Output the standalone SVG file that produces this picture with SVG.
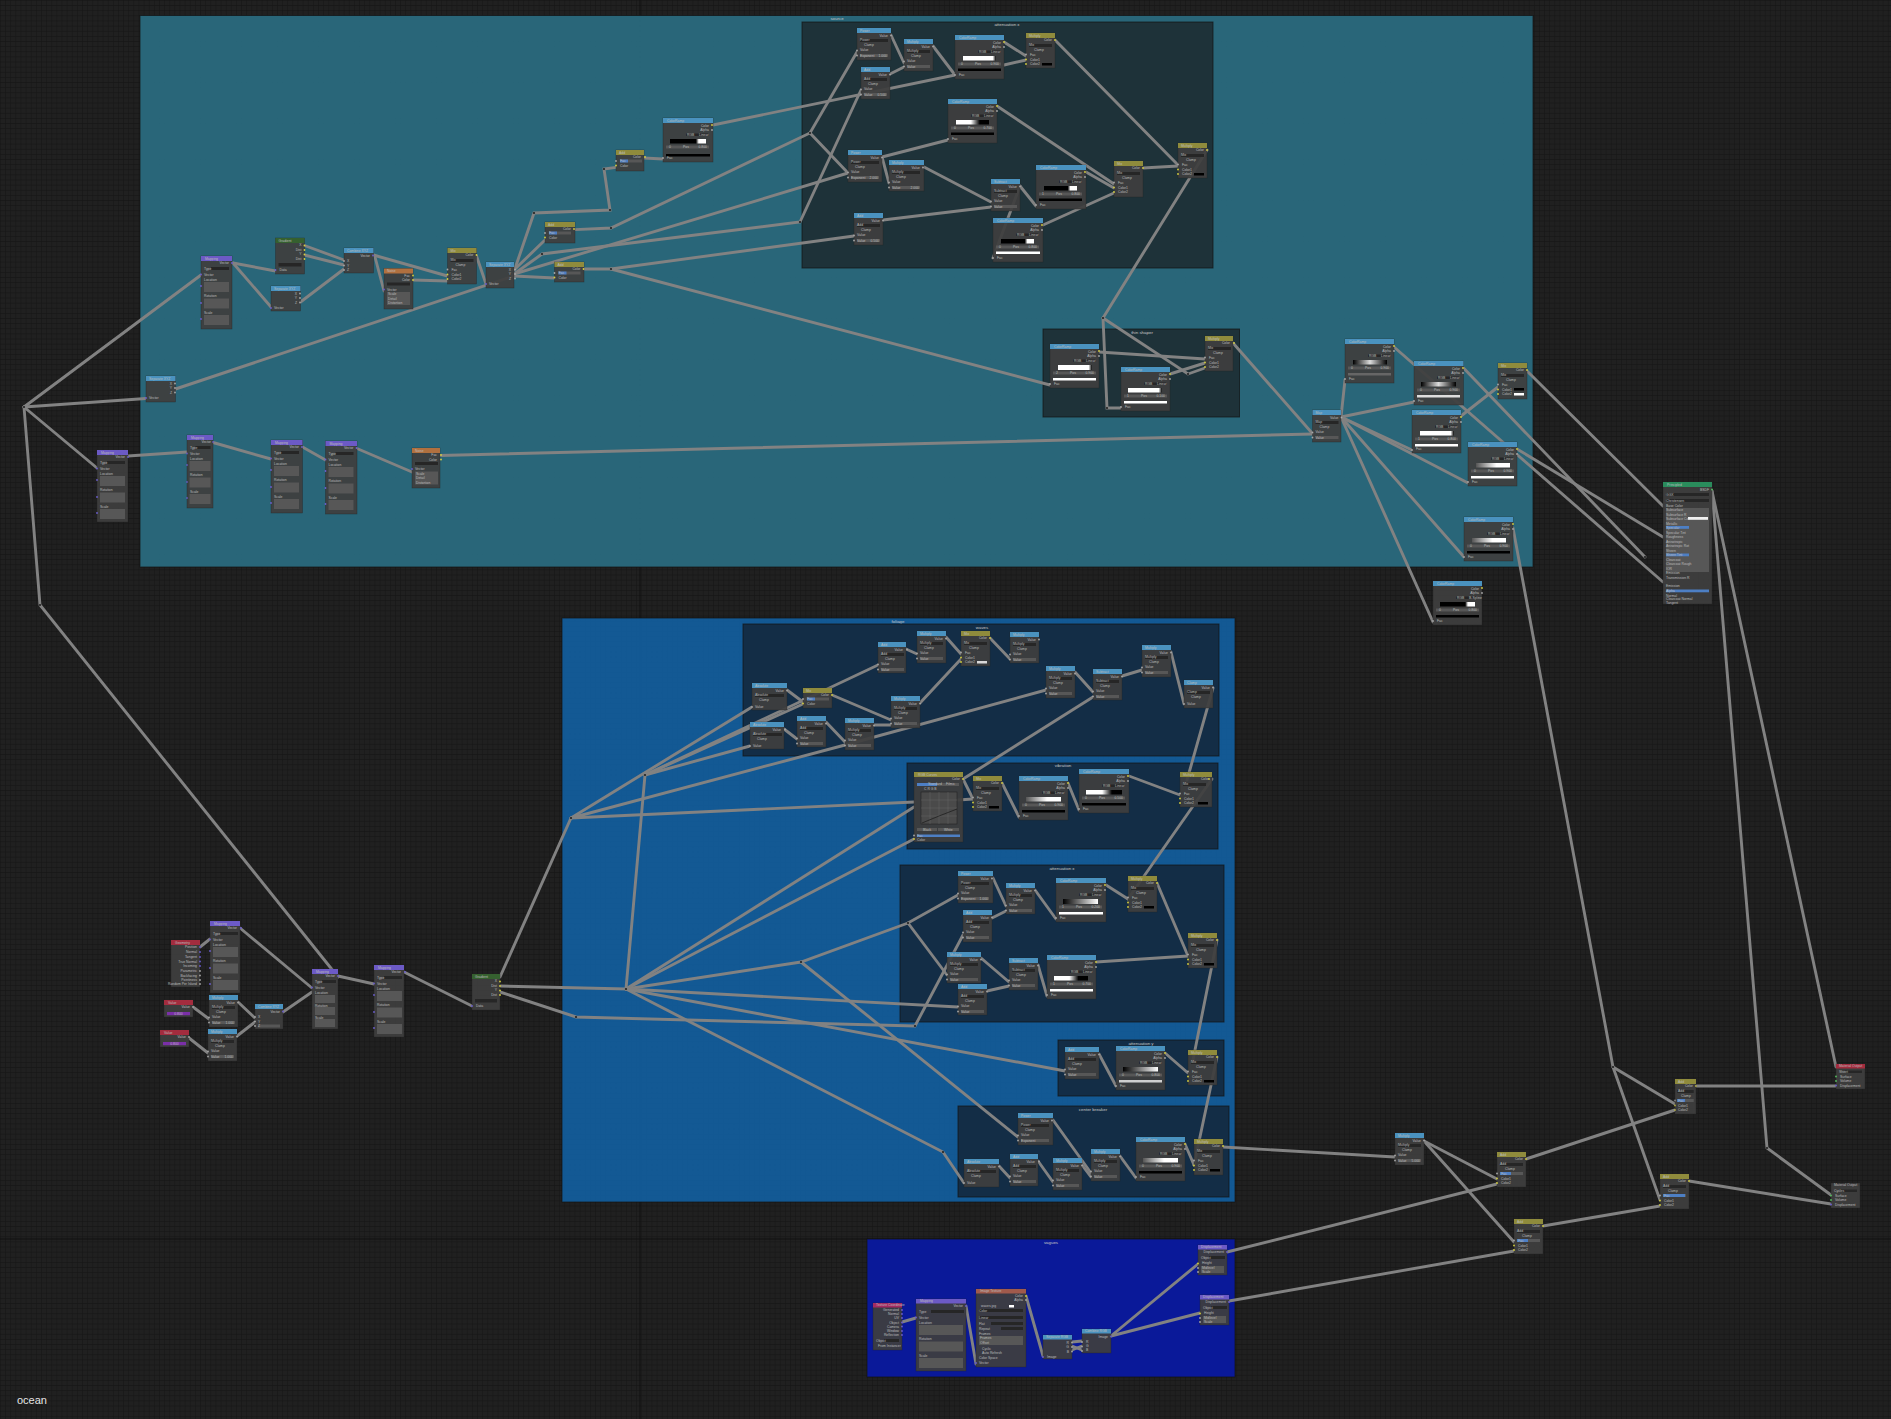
<svg xmlns="http://www.w3.org/2000/svg" width="1891" height="1419" viewBox="0 0 1891 1419">
<style>
text{font-family:"Liberation Sans",Arial,sans-serif;font-size:3.4px;fill:#bcbcbc}
.r{text-anchor:end}.c{text-anchor:middle}
.nb{fill:#3e3e3e;fill-opacity:.93;stroke:#222;stroke-width:.5;stroke-opacity:.7}
.f{fill:#262626}.s{fill:#575757}.fac{fill:#4d7fc4}
.v{fill:#a8a8a8}.y{fill:#d6d040}.p{fill:#6c5fd0}.g{fill:#55c060}
.b{fill:#4a92bf}.o{fill:#8f8b3c}.u{fill:#6c5ac6}.n{fill:#b0703f}.e{fill:#35602f}.d{fill:#a32c3e}.m{fill:#a32a62}.w{fill:#a05a4c}.q{fill:#2a8c5c}
.fr{stroke:#111;stroke-width:1;stroke-opacity:.7}
.ft{font-size:4.4px;text-anchor:middle;fill:#c8c8c8}
#connectors path{fill:none;stroke:#828282;stroke-width:2.9;stroke-linecap:round}
#connectors circle{fill:#222;r:1.1px}
</style>
<defs>
<pattern id="grid" width="5.13" height="5.13" patternUnits="userSpaceOnUse"><rect width="5.13" height="5.13" fill="#202020"/><path d="M0 0H5.13M0 0V5.13" stroke="#161616" stroke-width="1.1" fill="none"/></pattern>
<linearGradient id="gK"><stop offset=".72" stop-color="#000"/><stop offset=".8" stop-color="#fff"/></linearGradient>
<linearGradient id="gW"><stop offset=".1" stop-color="#fff"/><stop offset=".9" stop-color="#fff"/><stop offset="1" stop-color="#000"/></linearGradient>
<linearGradient id="gWK"><stop offset=".45" stop-color="#fff"/><stop offset=".72" stop-color="#000"/></linearGradient>
<linearGradient id="gKW"><stop offset="0" stop-color="#000"/><stop offset="1" stop-color="#fff"/></linearGradient>
<linearGradient id="gWG"><stop offset="0" stop-color="#555"/><stop offset=".6" stop-color="#fff"/></linearGradient>
<linearGradient id="gM"><stop offset="0" stop-color="#000"/><stop offset=".5" stop-color="#ddd"/><stop offset="1" stop-color="#000"/></linearGradient>
<g id="m"><rect class="f" x="3" y="11" width="23" height="3"/><rect class="s" x="3" y="26" width="23" height="3"/><circle class="v" cy="22.5" r=".9"/><circle class="v" cy="27.5" r=".9"/><circle class="v" cx="29" cy="7.5" r=".9"/></g>
<g id="m34"><rect class="f" x="3" y="11" width="28" height="3"/><rect class="s" x="3" y="26" width="28" height="3"/><circle class="v" cy="22.5" r=".9"/><circle class="v" cy="27.5" r=".9"/><circle class="v" cx="34" cy="7.5" r=".9"/></g>
<g id="a"><rect class="f" x="3" y="11" width="23" height="3"/><circle class="v" cy="24" r=".9"/><circle class="v" cx="29" cy="7.5" r=".9"/></g>
<g id="a35"><rect class="f" x="3" y="11" width="29" height="3"/><circle class="v" cy="24" r=".9"/><circle class="v" cx="35" cy="7.5" r=".9"/></g>
<g id="r"><rect class="f" x="23" y="15.5" width="22" height="2.5"/><rect class="s" x="3" y="27.5" width="43" height="3"/><circle class="y" cx="49" cy="7" r=".9"/><circle class="v" cx="49" cy="12" r=".9"/><circle class="v" cy="40" r=".9"/></g>
<g id="x"><rect class="f" x="3" y="11" width="23" height="3"/><circle class="v" cy="21.5" r=".9"/><circle class="y" cy="26.5" r=".9"/><circle class="y" cy="31" r=".9"/><circle class="y" cx="29" cy="7" r=".9"/></g>
<g id="x2"><rect class="s" x="4" y="9.5" width="22" height="3"/><rect class="fac" x="4" y="9.5" width="8" height="3"/><circle class="v" cy="11" r=".9"/><circle class="y" cy="15.5" r=".9"/><circle class="y" cx="29" cy="7" r=".9"/></g>
<g id="x3"><rect class="f" x="3" y="11" width="23" height="3"/><rect class="s" x="3" y="20" width="23" height="3"/><rect class="fac" x="3" y="20" width="11" height="3"/><circle class="v" cy="21.5" r=".9"/><circle class="y" cy="26.5" r=".9"/><circle class="y" cy="31" r=".9"/><circle class="y" cx="29" cy="7" r=".9"/></g>
<g id="map"><rect class="f" x="10" y="11" width="18" height="3"/><rect class="s" x="3" y="26" width="25" height="10"/><rect class="s" x="3" y="42.5" width="25" height="10"/><rect class="s" x="3" y="59" width="25" height="10"/><circle class="p" cy="18.5" r=".9"/><circle class="p" cy="30" r=".9"/><circle class="p" cy="47" r=".9"/><circle class="p" cy="63" r=".9"/><circle class="p" cx="31" cy="7" r=".9"/></g>
<g id="sep"><circle class="v" cx="29" cy="7.5" r=".9"/><circle class="v" cx="29" cy="12" r=".9"/><circle class="v" cx="29" cy="16.5" r=".9"/><circle class="p" cy="22" r=".9"/></g>
<g id="com"><circle class="p" cx="29" cy="7.5" r=".9"/><circle class="v" cy="13" r=".9"/><circle class="v" cy="17.5" r=".9"/><circle class="v" cy="22" r=".9"/></g>
<g id="noi"><rect class="f" x="3" y="14" width="23" height="3"/><rect class="s" x="3" y="23.5" width="23" height="13"/><circle class="y" cx="29" cy="7" r=".9"/><circle class="y" cx="29" cy="11.5" r=".9"/><circle class="p" cy="21" r=".9"/></g>
<rect id="ground" width="1891" height="1419" fill="url(#grid)"/>
</defs>
<use href="#ground"/>
<path d="M640 0V1419M0 1239H1891" stroke="#101010" stroke-width="1" fill="none"/>

<g id="frames">
<g id="frame-source"><rect class="fr" x="140" y="15.5" width="1393" height="551.5" fill="#2a697d" fill-opacity=".96"/><text class="ft" x="837" y="20">source</text></g>
<g id="frame-attx1"><rect class="fr" x="802" y="22" width="411" height="246" fill="#1f3138" fill-opacity=".98"/><text class="ft" x="1007" y="26">attenuation x</text></g>
<g id="frame-thin"><rect class="fr" x="1043" y="329" width="196.500" height="88" fill="#1f3138" fill-opacity=".98"/><text class="ft" x="1142" y="334">thin shaper</text></g>
<g id="frame-foliage"><rect class="fr" x="562" y="618" width="673" height="584" fill="#135b98" fill-opacity=".97"/><text class="ft" x="898" y="623">foliage</text></g>
<g id="frame-waves"><rect class="fr" x="743" y="624" width="476" height="132" fill="#132c44" fill-opacity=".98"/><text class="ft" x="982" y="629">waves</text></g>
<g id="frame-vib"><rect class="fr" x="907" y="763" width="311" height="86" fill="#132c44" fill-opacity=".98"/><text class="ft" x="1063" y="767">vibration</text></g>
<g id="frame-attx2"><rect class="fr" x="900" y="865" width="324" height="157" fill="#132c44" fill-opacity=".98"/><text class="ft" x="1062" y="870">attenuation x</text></g>
<g id="frame-atty"><rect class="fr" x="1058" y="1040" width="166" height="56" fill="#132c44" fill-opacity=".98"/><text class="ft" x="1141" y="1044.500">attenuation y</text></g>
<g id="frame-center"><rect class="fr" x="958" y="1106" width="271" height="91" fill="#132c44" fill-opacity=".98"/><text class="ft" x="1093" y="1110.500">center breaker</text></g>
<g id="frame-vagues"><rect class="fr" x="867" y="1239" width="368" height="138" fill="#0a1a9c" fill-opacity=".98"/><text class="ft" x="1051" y="1243.500">vagues</text></g>
</g>

<g id="connectors">
<path d="M24 407L40 605L338 977"/><path d="M24 407L201 275"/><path d="M24 407L146 398.500"/><path d="M24 407L97 468"/>
<path d="M128 456L187 452"/><path d="M213 442.500L271 459"/><path d="M302.500 447L325.500 460"/><path d="M357 448.500L412 472"/><path d="M440 455.500L1312.500 434"/>
<path d="M233 263L275.500 271"/><path d="M233 263L271 307"/><path d="M304.500 245.500L344 260"/><path d="M304.500 255L344 265"/><path d="M300.500 302L344 269"/>
<path d="M373.500 255L447.500 276"/><path d="M375 257L384 291"/><path d="M413 280L447.500 281"/><path d="M476.500 256L486 284"/><path d="M175.500 389L514 276"/>
<path d="M515 268.500L534 213L610 210L604 169L616 167.400"/><path d="M644 158L663 159"/><path d="M713 125L955 75"/>
<path d="M514 270L545 240"/><path d="M514 276L554.500 278"/><path d="M514 274L542 254L800 222L861 90"/><path d="M514 274L848 173"/>
<path d="M575 229.600L611 228L810 133L857 52"/><path d="M810 133L848 173"/><path d="M584 269L611 269L854 236"/><path d="M611 269L1050 385"/>
<path d="M882 157L948 140"/><path d="M882 157L889 183"/><path d="M891 35L904 63"/><path d="M890 74L904 67"/><path d="M933 46L955 75"/><path d="M1004 42L1026 56"/><path d="M1004 65L1026 60"/>
<path d="M1055 40L1178 165"/><path d="M997 106L1114 184"/><path d="M924 167L991 202"/><path d="M883 220L991 207"/><path d="M1020 186L1036 206"/><path d="M1020 186L993 258"/><path d="M1086 172L1114 188"/><path d="M1043 225L1114 193"/><path d="M1143 168L1178 166"/>
<path d="M1103 318L1207 150"/><path d="M1103 318L1107 408L1121 408"/><path d="M1103 318L1188 374L1205 368"/><path d="M1099 352L1205 359"/><path d="M1170 374L1205 363"/>
<path d="M1233 343L1312 433"/><path d="M1341 417L1345 380"/><path d="M1341 417L1414 402"/><path d="M1341 417L1412 450"/><path d="M1341 417L1468 483"/><path d="M1341 417L1464 557"/><path d="M1341 417L1433 622"/>
<path d="M1394 347L1663 582"/><path d="M1463.500 368L1645 557"/><path d="M1517 449L1663 537"/><path d="M1461 416L1498 387"/><path d="M1527 371L1663 506"/>
<path d="M1513 528L1613 1067L1675 1104"/><path d="M1613 1067L1660 1200"/><path d="M1712 491L1836 1067"/><path d="M1712 491L1767 1148L1831 1195"/><path d="M1696 1086H1836"/><path d="M1689 1181L1831 1204"/>
<path d="M1424 1141L1497 1179"/><path d="M1424 1141L1514 1242"/><path d="M1223 1147L1395 1157"/><path d="M1526 1159L1675 1110"/><path d="M1543 1226L1660 1206"/><path d="M1227 1252L1497 1184"/><path d="M1229 1301L1514 1251"/>
<path d="M200 947L210 939"/><path d="M240 928L312 988"/><path d="M193 1007L209 1019"/><path d="M189 1038L208 1053"/><path d="M238 1002L255 1018"/><path d="M237 1036L255 1022"/><path d="M283 1012L312 992"/><path d="M338 976L374 984"/><path d="M404 972L472 1006"/>
<path d="M500 977L571 818L752 707"/><path d="M571 818L914 802"/><path d="M571 818L845 745"/><path d="M845 745L1046 690"/>
<path d="M500 986L626 989L645 775L750 746"/><path d="M645 775L803 704"/><path d="M645 775L878 665"/><path d="M626 989L914 807"/><path d="M626 989L914 839"/>
<path d="M626 989L801 962L908 923L958 895"/><path d="M908 923L947 975"/><path d="M801 962L1018 1137"/><path d="M500 992L576 1017L915 1026L963 935"/><path d="M626 989L958 1007"/><path d="M626 989L1065 1071"/><path d="M626 989L943 1152L964 1183"/>
<path d="M787 690L803 702"/><path d="M784 729L797 739"/><path d="M832 695L891 720"/><path d="M826 722L845 742"/><path d="M874 725L891 725"/><path d="M920 703L961 659"/><path d="M906 649L917 654"/><path d="M946 637L961 654"/><path d="M990 638L1010 659"/><path d="M1075 672L1093 692"/><path d="M1122 676L1142 670"/><path d="M1171 652L1184 704"/>
<path d="M963 779L1093 697"/><path d="M1213 688L1187 780"/><path d="M963 779L973 799"/><path d="M958 800L973 799"/><path d="M1002 783L1019 817"/><path d="M1068 783L1079 810"/><path d="M1129 776L1180 795"/><path d="M1212 779L1128 899"/>
<path d="M993 878L1006 906"/><path d="M992 918L1006 911"/><path d="M1035 890L1056 919"/><path d="M1106 885L1128 899"/><path d="M1157 883L1188 956"/><path d="M981 958L1009 982"/><path d="M987 991L1009 986"/><path d="M1038 965L1047 996"/><path d="M1096 962L1188 956"/><path d="M1217 940L1193 1060"/>
<path d="M1099 1054L1116 1086"/><path d="M1165 1053L1188 1073"/><path d="M1217 1057L1194 1165"/><path d="M1053 1120L1091 1173"/><path d="M999 1166L1010 1178"/><path d="M1038 1161L1053 1182"/><path d="M1082 1165L1091 1177"/><path d="M1120 1156L1136 1178"/><path d="M1185 1144L1194 1165"/>
<path d="M902 1322L916 1318"/><path d="M966 1306L976 1364"/><path d="M1026 1296L1043 1356"/><path d="M1072 1342L1082 1341"/><path d="M1072 1346L1082 1350"/><path d="M1072 1350L1082 1346"/><path d="M1111 1336L1198 1264"/><path d="M1111 1336L1200 1313"/>
<circle cx="24" cy="407"/><circle cx="40" cy="605"/><circle cx="534" cy="213"/><circle cx="610" cy="210"/><circle cx="604" cy="169"/><circle cx="611" cy="228"/><circle cx="611" cy="269"/><circle cx="542" cy="254"/><circle cx="800" cy="222"/><circle cx="810" cy="133"/><circle cx="1103" cy="318"/><circle cx="1107" cy="408"/><circle cx="1188" cy="374"/><circle cx="1645" cy="557"/><circle cx="1613" cy="1067"/><circle cx="1767" cy="1148"/><circle cx="571" cy="818"/><circle cx="645" cy="775"/><circle cx="626" cy="989"/><circle cx="801" cy="962"/><circle cx="908" cy="923"/><circle cx="576" cy="1017"/><circle cx="915" cy="1026"/><circle cx="943" cy="1152"/>
</g>

<g id="nodes">
<g id="ax-power" transform="translate(857,28)"><rect class="nb" width="34" height="32"/><rect class="b" width="34" height="5"/><use href="#m34"/><text x="3" y="3.600">Power</text><text class="r" x="31" y="8.500">Value</text><text x="3" y="13.400">Power</text><text x="7" y="18">Clamp</text><text x="3" y="23">Value</text><text x="3" y="28.500">Exponent</text><text class="r" x="30" y="28.500">1.000</text></g>
<g id="ax-add" transform="translate(861,67)"><rect class="nb" width="29" height="32"/><rect class="b" width="29" height="5"/><use href="#m"/><text x="3" y="3.600">Add</text><text class="r" x="26" y="8.500">Value</text><text x="3" y="13.400">Add</text><text x="7" y="18">Clamp</text><text x="3" y="23">Value</text><text x="3" y="28.500">Value</text><text class="r" x="25" y="28.500">0.500</text></g>
<g id="ax-mul1" transform="translate(904,39)"><rect class="nb" width="29" height="32"/><rect class="b" width="29" height="5"/><use href="#m"/><text x="3" y="3.600">Multiply</text><text class="r" x="26" y="8.500">Value</text><text x="3" y="13.400">Multiply</text><text x="7" y="18">Clamp</text><text x="3" y="23">Value</text><text x="3" y="28.500">Value</text></g>
<g id="ax-ramp1" transform="translate(955,35)"><rect class="nb" width="49" height="44"/><rect class="b" width="49" height="5"/><use href="#r"/><rect x="8" y="21" width="33" height="4.500" fill="url(#gW)"/><rect x="3" y="33.500" width="43" height="2.500" fill="#000"/><text x="4" y="3.600">ColorRamp</text><text class="r" x="46" y="8.500">Color</text><text class="r" x="46" y="13">Alpha</text><text x="24" y="18">RGB</text><text x="36" y="18">Linear</text><text x="6" y="30">0</text><text x="20" y="30">Pos</text><text class="r" x="44" y="30">0.900</text><text x="4" y="41">Fac</text></g>
<g id="ax-mix1" transform="translate(1026,33)"><rect class="nb" width="29" height="35"/><rect class="o" width="29" height="5"/><use href="#x"/><rect x="16" y="30" width="10" height="2.500" fill="#000"/><text x="3" y="3.600">Multiply</text><text class="r" x="26" y="8">Color</text><text x="3" y="13.400">Mix</text><text x="8" y="18">Clamp</text><text x="4" y="23">Fac</text><text x="4" y="27.500">Color1</text><text x="4" y="32">Color2</text></g>
<g id="ax-ramp2" transform="translate(948,99)"><rect class="nb" width="49" height="44"/><rect class="b" width="49" height="5"/><use href="#r"/><rect x="8" y="21" width="33" height="4.500" fill="url(#gWK)"/><rect x="3" y="33.500" width="43" height="2.500" fill="#000"/><text x="4" y="3.600">ColorRamp</text><text class="r" x="46" y="8.500">Color</text><text class="r" x="46" y="13">Alpha</text><text x="24" y="18">RGB</text><text x="36" y="18">Linear</text><text x="6" y="30">0</text><text x="20" y="30">Pos</text><text class="r" x="44" y="30">0.700</text><text x="4" y="41">Fac</text></g>
<g id="ax-power2" transform="translate(848,150)"><rect class="nb" width="34" height="32"/><rect class="b" width="34" height="5"/><use href="#m34"/><text x="3" y="3.600">Power</text><text class="r" x="31" y="8.500">Value</text><text x="3" y="13.400">Power</text><text x="7" y="18">Clamp</text><text x="3" y="23">Value</text><text x="3" y="28.500">Exponent</text><text class="r" x="30" y="28.500">2.000</text></g>
<g id="ax-mul2" transform="translate(889,160)"><rect class="nb" width="35" height="31"/><rect class="b" width="35" height="5"/><use href="#m34"/><text x="3" y="3.600">Multiply</text><text class="r" x="31" y="8.500">Value</text><text x="3" y="13.400">Multiply</text><text x="7" y="18">Clamp</text><text x="3" y="23">Value</text><text x="3" y="28.500">Value</text><text class="r" x="30" y="28.500">2.000</text></g>
<g id="ax-sub" transform="translate(991,179)"><rect class="nb" width="29" height="32"/><rect class="b" width="29" height="5"/><use href="#m"/><text x="3" y="3.600">Subtract</text><text class="r" x="26" y="8.500">Value</text><text x="3" y="13.400">Subtract</text><text x="7" y="18">Clamp</text><text x="3" y="23">Value</text><text x="3" y="28.500">Value</text></g>
<g id="ax-ramp3" transform="translate(1036,165)"><rect class="nb" width="50" height="44"/><rect class="b" width="50" height="5"/><use href="#r"/><rect x="8" y="21" width="33" height="4.500" fill="url(#gK)"/><rect x="3" y="33.500" width="43" height="2.500" fill="#000"/><text x="4" y="3.600">ColorRamp</text><text class="r" x="46" y="8.500">Color</text><text class="r" x="46" y="13">Alpha</text><text x="24" y="18">RGB</text><text x="36" y="18">Linear</text><text x="6" y="30">1</text><text x="20" y="30">Pos</text><text class="r" x="44" y="30">0.800</text><text x="4" y="41">Fac</text></g>
<g id="ax-mix2" transform="translate(1114,161)"><rect class="nb" width="29" height="36"/><rect class="o" width="29" height="5"/><use href="#x"/><text x="3" y="3.600">Mix</text><text class="r" x="26" y="8">Color</text><text x="3" y="13.400">Mix</text><text x="8" y="18">Clamp</text><text x="4" y="23">Fac</text><text x="4" y="27.500">Color1</text><text x="4" y="32">Color2</text></g>
<g id="ax-mix3" transform="translate(1178,143)"><rect class="nb" width="29" height="35"/><rect class="o" width="29" height="5"/><use href="#x"/><rect x="16" y="30" width="10" height="2.500" fill="#000"/><text x="3" y="3.600">Multiply</text><text class="r" x="26" y="8">Color</text><text x="3" y="13.400">Mix</text><text x="8" y="18">Clamp</text><text x="4" y="23">Fac</text><text x="4" y="27.500">Color1</text><text x="4" y="32">Color2</text></g>
<g id="ax-add2" transform="translate(854,213)"><rect class="nb" width="29" height="32"/><rect class="b" width="29" height="5"/><use href="#m"/><text x="3" y="3.600">Add</text><text class="r" x="26" y="8.500">Value</text><text x="3" y="13.400">Add</text><text x="7" y="18">Clamp</text><text x="3" y="23">Value</text><text x="3" y="28.500">Value</text><text class="r" x="25" y="28.500">0.500</text></g>
<g id="ax-ramp4" transform="translate(993,218)"><rect class="nb" width="50" height="44"/><rect class="b" width="50" height="5"/><use href="#r"/><rect x="8" y="21" width="33" height="4.500" fill="url(#gK)"/><rect x="3" y="33.500" width="44" height="2.500" fill="#fff"/><text x="4" y="3.600">ColorRamp</text><text class="r" x="46" y="8.500">Color</text><text class="r" x="46" y="13">Alpha</text><text x="24" y="18">RGB</text><text x="36" y="18">Linear</text><text x="6" y="30">0</text><text x="20" y="30">Pos</text><text class="r" x="44" y="30">0.800</text><text x="4" y="41">Fac</text></g>

<g id="s-map1" transform="translate(201,256)"><rect class="nb" width="31" height="73"/><rect class="u" width="31" height="5"/><use href="#map"/><text x="4" y="3.600">Mapping</text><text class="r" x="28" y="8">Vector</text><text x="3" y="13.500">Type</text><text x="3" y="19.500">Vector</text><text x="3" y="24.500">Location</text><text x="3" y="41">Rotation</text><text x="3" y="57.500">Scale</text></g>
<g id="s-grad1" transform="translate(275.500,238)"><rect class="nb" width="29" height="36"/><rect class="e" width="29" height="5"/><circle class="y" cx="29" cy="7.500" r=".9"/><circle class="y" cx="29" cy="12" r=".9"/><circle class="y" cx="29" cy="16.500" r=".9"/><circle class="y" cx="29" cy="21" r=".9"/><circle class="p" cy="32" r=".9"/><rect class="f" x="3" y="25" width="23" height="3.500"/><text x="3" y="3.600">Gradient</text><text class="r" x="26" y="8">X</text><text class="r" x="26" y="12.500">Dist</text><text class="r" x="26" y="17">Y</text><text class="r" x="26" y="21.500">Dist</text><text x="4" y="33">Data</text></g>
<g id="s-sep1" transform="translate(271,286)"><rect class="nb" width="29.500" height="25"/><rect class="b" width="29.500" height="5"/><use href="#sep"/><text x="3" y="3.600">Separate XYZ</text><text class="r" x="26" y="8.500">X</text><text class="r" x="26" y="13">Y</text><text class="r" x="26" y="17.500">Z</text><text x="3" y="23">Vector</text></g>
<g id="s-com1" transform="translate(344,248)"><rect class="nb" width="29.500" height="25"/><rect class="b" width="29.500" height="5"/><use href="#com"/><text x="3" y="3.600">Combine XYZ</text><text class="r" x="26" y="8.500">Vector</text><text x="3" y="14">X</text><text x="3" y="18.500">Y</text><text x="3" y="23">Z</text></g>
<g id="s-noise1" transform="translate(384,268.500)"><rect class="nb" width="29" height="40.500"/><rect class="n" width="29" height="5"/><use href="#noi"/><text x="3" y="3.600">Noise</text><text class="r" x="26" y="8">Fac</text><text class="r" x="26" y="12.500">Color</text><text x="3" y="22">Vector</text><text x="4" y="26.500">Scale</text><text x="4" y="31">Detail</text><text x="4" y="35.500">Distortion</text></g>
<g id="s-mix1" transform="translate(447.500,248)"><rect class="nb" width="29" height="36"/><rect class="o" width="29" height="5"/><use href="#x"/><text x="3" y="3.600">Mix</text><text class="r" x="26" y="8">Color</text><text x="3" y="13.400">Mix</text><text x="8" y="18">Clamp</text><text x="4" y="23">Fac</text><text x="4" y="27.500">Color1</text><text x="4" y="32">Color2</text></g>
<g id="s-sep2" transform="translate(486,262)"><rect class="nb" width="28" height="26"/><rect class="b" width="28" height="5"/><use href="#sep"/><text x="3" y="3.600">Separate XYZ</text><text class="r" x="25" y="8.500">X</text><text class="r" x="25" y="13">Y</text><text class="r" x="25" y="17.500">Z</text><text x="3" y="23">Vector</text></g>
<g id="s-add1" transform="translate(545,222)"><rect class="nb" width="30" height="21"/><rect class="o" width="30" height="5"/><use href="#x2"/><text x="3" y="3.600">Add</text><text class="r" x="26" y="8">Color</text><text x="4" y="12">Fac</text><text x="4" y="16.500">Color</text></g>
<g id="s-add2" transform="translate(554.500,262)"><rect class="nb" width="29.500" height="20"/><rect class="o" width="29.500" height="5"/><use href="#x2"/><text x="3" y="3.600">Add</text><text class="r" x="26" y="8">Color</text><text x="4" y="12">Fac</text><text x="4" y="16.500">Color</text></g>
<g id="s-add3" transform="translate(616,150)"><rect class="nb" width="28" height="21"/><rect class="o" width="28" height="5"/><use href="#x2"/><text x="3" y="3.600">Add</text><text class="r" x="25" y="8">Color</text><text x="4" y="12">Fac</text><text x="4" y="16.500">Color</text></g>
<g id="s-ramp1" transform="translate(663,118)"><rect class="nb" width="50" height="44"/><rect class="b" width="50" height="5"/><use href="#r"/><rect x="7" y="21" width="36" height="4.500" fill="url(#gK)"/><rect x="3" y="36" width="44" height="2.500" fill="#000"/><text x="4" y="3.600">ColorRamp</text><text class="r" x="46" y="8.500">Color</text><text class="r" x="46" y="13">Alpha</text><text x="24" y="18">RGB</text><text x="36" y="18">Linear</text><text x="6" y="30">0</text><text x="20" y="30">Pos</text><text class="r" x="44" y="30">0.800</text><text x="4" y="41">Fac</text></g>
<g id="s-sep3" transform="translate(146,376)"><rect class="nb" width="29.500" height="26"/><rect class="b" width="29.500" height="5"/><use href="#sep"/><text x="3" y="3.600">Separate XYZ</text><text class="r" x="26" y="8.500">X</text><text class="r" x="26" y="13">Y</text><text class="r" x="26" y="17.500">Z</text><text x="3" y="23">Vector</text></g>
<g id="s-map2" transform="translate(97,450)"><rect class="nb" width="31" height="72"/><rect class="u" width="31" height="5"/><use href="#map"/><text x="4" y="3.600">Mapping</text><text class="r" x="28" y="8">Vector</text><text x="3" y="13.500">Type</text><text x="3" y="19.500">Vector</text><text x="3" y="24.500">Location</text><text x="3" y="41">Rotation</text><text x="3" y="57.500">Scale</text></g>
<g id="s-map3" transform="translate(187,435)"><rect class="nb" width="26" height="73"/><rect class="u" width="26" height="5"/><use href="#map" transform="scale(.84,1)"/><text x="4" y="3.600">Mapping</text><text class="r" x="24" y="8">Vector</text><text x="3" y="13.500">Type</text><text x="3" y="19.500">Vector</text><text x="3" y="24.500">Location</text><text x="3" y="41">Rotation</text><text x="3" y="57.500">Scale</text></g>
<g id="s-map4" transform="translate(271,440)"><rect class="nb" width="31.500" height="73"/><rect class="u" width="31.500" height="5"/><use href="#map"/><text x="4" y="3.600">Mapping</text><text class="r" x="28" y="8">Vector</text><text x="3" y="13.500">Type</text><text x="3" y="19.500">Vector</text><text x="3" y="24.500">Location</text><text x="3" y="41">Rotation</text><text x="3" y="57.500">Scale</text></g>
<g id="s-map5" transform="translate(325.500,441)"><rect class="nb" width="31.500" height="73"/><rect class="u" width="31.500" height="5"/><use href="#map"/><text x="4" y="3.600">Mapping</text><text class="r" x="28" y="8">Vector</text><text x="3" y="13.500">Type</text><text x="3" y="19.500">Vector</text><text x="3" y="24.500">Location</text><text x="3" y="41">Rotation</text><text x="3" y="57.500">Scale</text></g>
<g id="s-noise2" transform="translate(412,448)"><rect class="nb" width="28" height="40"/><rect class="n" width="28" height="5"/><use href="#noi"/><text x="3" y="3.600">Noise</text><text class="r" x="25" y="8">Fac</text><text class="r" x="25" y="12.500">Color</text><text x="3" y="22">Vector</text><text x="4" y="26.500">Scale</text><text x="4" y="31">Detail</text><text x="4" y="35.500">Distortion</text></g>

<g id="t-ramp1" transform="translate(1050,344)"><rect class="nb" width="49" height="44"/><rect class="b" width="49" height="5"/><use href="#r"/><rect x="8" y="21" width="34" height="5" fill="url(#gW)"/><rect x="3" y="34" width="43" height="2.500" fill="#fff"/><text x="4" y="3.600">ColorRamp</text><text class="r" x="46" y="8.500">Color</text><text class="r" x="46" y="13">Alpha</text><text x="24" y="18">RGB</text><text x="36" y="18">Linear</text><text x="6" y="30">2</text><text x="20" y="30">Pos</text><text class="r" x="44" y="30">0.900</text><text x="4" y="41">Fac</text></g>
<g id="t-ramp2" transform="translate(1121,367)"><rect class="nb" width="49" height="44"/><rect class="b" width="49" height="5"/><use href="#r"/><rect x="7" y="21" width="34" height="4.500" fill="url(#gW)"/><rect x="3" y="34" width="43" height="2.500" fill="#fff"/><text x="4" y="3.600">ColorRamp</text><text class="r" x="46" y="8.500">Color</text><text class="r" x="46" y="13">Alpha</text><text x="24" y="18">RGB</text><text x="36" y="18">Linear</text><text x="6" y="30">1</text><text x="20" y="30">Pos</text><text class="r" x="44" y="30">0.100</text><text x="4" y="41">Fac</text></g>
<g id="t-mix" transform="translate(1205,336)"><rect class="nb" width="28" height="35"/><rect class="o" width="28" height="5"/><use href="#x"/><text x="3" y="3.600">Multiply</text><text class="r" x="25" y="8">Color</text><text x="3" y="13.400">Mix</text><text x="8" y="18">Clamp</text><text x="4" y="23">Fac</text><text x="4" y="27.500">Color1</text><text x="4" y="32">Color2</text></g>
<g id="o-math" transform="translate(1312.500,410)"><rect class="nb" width="28.500" height="32"/><rect class="b" width="28.500" height="5"/><use href="#m"/><text x="3" y="3.600">Map</text><text class="r" x="26" y="8.500">Value</text><text x="3" y="13.400">Map</text><text x="7" y="18">Clamp</text><text x="3" y="23">Value</text><text x="3" y="28.500">Value</text></g>
<g id="o-ramp1" transform="translate(1345,339)"><rect class="nb" width="49" height="44"/><rect class="b" width="49" height="5"/><use href="#r"/><rect x="8" y="21" width="34" height="4.500" fill="url(#gM)"/><rect x="3" y="34" width="43" height="2.500" fill="#666"/><text x="4" y="3.600">ColorRamp</text><text class="r" x="46" y="8.500">Color</text><text class="r" x="46" y="13">Alpha</text><text x="24" y="18">RGB</text><text x="36" y="18">Linear</text><text x="6" y="30">0</text><text x="20" y="30">Pos</text><text class="r" x="44" y="30">0.900</text><text x="4" y="41">Fac</text></g>
<g id="o-ramp2" transform="translate(1414,361)"><rect class="nb" width="49.500" height="44"/><rect class="b" width="49.500" height="5"/><use href="#r"/><rect x="7" y="21" width="35" height="4.500" fill="url(#gM)"/><rect x="3" y="34" width="43" height="2.500" fill="#ddd"/><text x="4" y="3.600">ColorRamp</text><text class="r" x="46" y="8.500">Color</text><text class="r" x="46" y="13">Alpha</text><text x="24" y="18">RGB</text><text x="36" y="18">Linear</text><text x="6" y="30">0</text><text x="20" y="30">Pos</text><text class="r" x="44" y="30">0.900</text><text x="4" y="41">Fac</text></g>
<g id="o-ramp3" transform="translate(1412,410)"><rect class="nb" width="49" height="43"/><rect class="b" width="49" height="5"/><use href="#r"/><rect x="8" y="21" width="34" height="4.500" fill="url(#gW)"/><rect x="3" y="34" width="43" height="2.500" fill="#fff"/><text x="4" y="3.600">ColorRamp</text><text class="r" x="46" y="8.500">Color</text><text class="r" x="46" y="13">Alpha</text><text x="24" y="18">RGB</text><text x="36" y="18">Linear</text><text x="6" y="30">1</text><text x="20" y="30">Pos</text><text class="r" x="44" y="30">0.800</text><text x="4" y="40">Fac</text></g>
<g id="o-mix" transform="translate(1498,363)"><rect class="nb" width="29" height="36"/><rect class="o" width="29" height="5"/><use href="#x"/><rect x="16" y="25" width="10" height="2.500" fill="#000"/><rect x="16" y="30" width="10" height="2.500" fill="#fff"/><text x="3" y="3.600">Mix</text><text class="r" x="26" y="8">Color</text><text x="3" y="13.400">Mix</text><text x="8" y="18">Clamp</text><text x="4" y="23">Fac</text><text x="4" y="27.500">Color1</text><text x="4" y="32">Color2</text></g>
<g id="o-ramp4" transform="translate(1468,442)"><rect class="nb" width="49" height="44"/><rect class="b" width="49" height="5"/><use href="#r"/><rect x="8" y="21" width="34" height="4.500" fill="url(#gWG)"/><rect x="3" y="34" width="43" height="2.500" fill="#fff"/><text x="4" y="3.600">ColorRamp</text><text class="r" x="46" y="8.500">Color</text><text class="r" x="46" y="13">Alpha</text><text x="24" y="18">RGB</text><text x="36" y="18">Linear</text><text x="6" y="30">0</text><text x="20" y="30">Pos</text><text class="r" x="44" y="30">0.900</text><text x="4" y="41">Fac</text></g>
<g id="o-ramp5" transform="translate(1464,517)"><rect class="nb" width="49" height="44"/><rect class="b" width="49" height="5"/><use href="#r"/><rect x="8" y="21" width="34" height="4.500" fill="url(#gWG)"/><rect x="3" y="34" width="43" height="2.500" fill="#000"/><text x="4" y="3.600">ColorRamp</text><text class="r" x="46" y="8.500">Color</text><text class="r" x="46" y="13">Alpha</text><text x="24" y="18">RGB</text><text x="36" y="18">Linear</text><text x="6" y="30">0</text><text x="20" y="30">Pos</text><text class="r" x="44" y="30">0.900</text><text x="4" y="41">Fac</text></g>
<g id="o-ramp6" transform="translate(1433,581)"><rect class="nb" width="49" height="44"/><rect class="b" width="49" height="5"/><use href="#r"/><rect x="7" y="21" width="35" height="4.500" fill="url(#gK)"/><rect x="3" y="34" width="43" height="2.500" fill="#000"/><text x="4" y="3.600">ColorRamp</text><text class="r" x="46" y="8.500">Color</text><text class="r" x="46" y="13">Alpha</text><text x="24" y="18">RGB</text><text x="36" y="18">B-Spline</text><text x="6" y="30">0</text><text x="20" y="30">Pos</text><text class="r" x="44" y="30">0.800</text><text x="4" y="41">Fac</text></g>
<g id="principled" transform="translate(1663,482)"><rect class="nb" width="49" height="122"/><rect class="q" width="49" height="5"/><circle class="g" cx="49" cy="7.500" r=".9"/><rect class="f" x="3" y="11" width="43" height="3"/><rect class="f" x="3" y="17" width="43" height="3"/><rect class="s" x="3" y="26" width="43" height="64"/><rect x="25" y="35" width="20" height="2.800" fill="#f0f0f0"/><rect class="fac" x="3" y="44" width="23" height="2.800"/><rect class="fac" x="3" y="71.500" width="23" height="2.800"/><rect class="fac" x="3" y="107.500" width="43" height="2.800"/><text x="4" y="3.600">Principled</text><text class="r" x="46" y="8.500">BSDF</text><text x="3" y="14">GGX</text><text x="3" y="19.500">Christensen</text><text x="3" y="24.500">Base Color</text><text x="3" y="29">Subsurface</text><text x="3" y="33.500">Subsurface R</text><text x="3" y="38">Subsurface Co</text><text x="3" y="42.500">Metallic</text><text x="3" y="47">Specular</text><text x="3" y="51.500">Specular Tint</text><text x="3" y="56">Roughness</text><text x="3" y="60.500">Anisotropic</text><text x="3" y="65">Anisotropic Rot</text><text x="3" y="69.500">Sheen</text><text x="3" y="74">Sheen Tint</text><text x="3" y="78.500">Clearcoat</text><text x="3" y="83">Clearcoat Rough</text><text x="3" y="87.500">IOR</text><text x="3" y="92">Emission</text><text x="3" y="96.500">Transmission R</text><text x="3" y="105">Emission</text><text x="3" y="110">Alpha</text><text x="3" y="114.500">Normal</text><text x="3" y="118">Clearcoat Normal</text><text x="3" y="121.500">Tangent</text></g>

<g id="w-abs1" transform="translate(752,683)"><rect class="nb" width="35" height="27"/><rect class="b" width="35" height="5"/><use href="#a35"/><text x="3" y="3.600">Absolute</text><text class="r" x="32" y="8.500">Value</text><text x="3" y="13.400">Absolute</text><text x="7" y="18">Clamp</text><text x="3" y="25">Value</text></g>
<g id="w-abs2" transform="translate(750,722)"><rect class="nb" width="34" height="27"/><rect class="b" width="34" height="5"/><use href="#a35"/><text x="3" y="3.600">Absolute</text><text class="r" x="31" y="8.500">Value</text><text x="3" y="13.400">Absolute</text><text x="7" y="18">Clamp</text><text x="3" y="25">Value</text></g>
<g id="w-mix" transform="translate(803,688)"><rect class="nb" width="29" height="20"/><rect class="o" width="29" height="5"/><use href="#x2"/><text x="3" y="3.600">Mix</text><text class="r" x="26" y="8">Color</text><text x="4" y="12">Fac</text><text x="4" y="16.500">Color</text></g>
<g id="w-add1" transform="translate(797,716)"><rect class="nb" width="29" height="31"/><rect class="b" width="29" height="5"/><use href="#m"/><text x="3" y="3.600">Add</text><text class="r" x="26" y="8.500">Value</text><text x="3" y="13.400">Add</text><text x="7" y="18">Clamp</text><text x="3" y="23">Value</text><text x="3" y="28.500">Value</text></g>
<g id="w-mul1" transform="translate(845,718)"><rect class="nb" width="29" height="32"/><rect class="b" width="29" height="5"/><use href="#m"/><text x="3" y="3.600">Multiply</text><text class="r" x="26" y="8.500">Value</text><text x="3" y="13.400">Multiply</text><text x="7" y="18">Clamp</text><text x="3" y="23">Value</text><text x="3" y="28.500">Value</text></g>
<g id="w-mul2" transform="translate(891,696)"><rect class="nb" width="29" height="32"/><rect class="b" width="29" height="5"/><use href="#m"/><text x="3" y="3.600">Multiply</text><text class="r" x="26" y="8.500">Value</text><text x="3" y="13.400">Multiply</text><text x="7" y="18">Clamp</text><text x="3" y="23">Value</text><text x="3" y="28.500">Value</text></g>
<g id="w-add2" transform="translate(878,642)"><rect class="nb" width="28" height="31"/><rect class="b" width="28" height="5"/><use href="#m"/><text x="3" y="3.600">Add</text><text class="r" x="25" y="8.500">Value</text><text x="3" y="13.400">Add</text><text x="7" y="18">Clamp</text><text x="3" y="23">Value</text><text x="3" y="28.500">Value</text></g>
<g id="w-mul3" transform="translate(917,631)"><rect class="nb" width="29" height="32"/><rect class="b" width="29" height="5"/><use href="#m"/><text x="3" y="3.600">Multiply</text><text class="r" x="26" y="8.500">Value</text><text x="3" y="13.400">Multiply</text><text x="7" y="18">Clamp</text><text x="3" y="23">Value</text><text x="3" y="28.500">Value</text></g>
<g id="w-mix2" transform="translate(961,631)"><rect class="nb" width="29" height="35"/><rect class="o" width="29" height="5"/><use href="#x"/><rect x="16" y="30" width="10" height="2.500" fill="#d8d8d8"/><text x="3" y="3.600">Mix</text><text class="r" x="26" y="8">Color</text><text x="3" y="13.400">Mix</text><text x="8" y="18">Clamp</text><text x="4" y="23">Fac</text><text x="4" y="27.500">Color1</text><text x="4" y="32">Color2</text></g>
<g id="w-mul4" transform="translate(1010,632)"><rect class="nb" width="29" height="31"/><rect class="b" width="29" height="5"/><use href="#m"/><text x="3" y="3.600">Multiply</text><text class="r" x="26" y="8.500">Value</text><text x="3" y="13.400">Multiply</text><text x="7" y="18">Clamp</text><text x="3" y="23">Value</text><text x="3" y="28.500">Value</text></g>
<g id="w-mul5" transform="translate(1046,666)"><rect class="nb" width="29" height="32"/><rect class="b" width="29" height="5"/><use href="#m"/><text x="3" y="3.600">Multiply</text><text class="r" x="26" y="8.500">Value</text><text x="3" y="13.400">Multiply</text><text x="7" y="18">Clamp</text><text x="3" y="23">Value</text><text x="3" y="28.500">Value</text></g>
<g id="w-sub" transform="translate(1093,669)"><rect class="nb" width="29" height="31"/><rect class="b" width="29" height="5"/><use href="#m"/><text x="3" y="3.600">Subtract</text><text class="r" x="26" y="8.500">Value</text><text x="3" y="13.400">Subtract</text><text x="7" y="18">Clamp</text><text x="3" y="23">Value</text><text x="3" y="28.500">Value</text></g>
<g id="w-mul6" transform="translate(1142,645)"><rect class="nb" width="29" height="32"/><rect class="b" width="29" height="5"/><use href="#m"/><text x="3" y="3.600">Multiply</text><text class="r" x="26" y="8.500">Value</text><text x="3" y="13.400">Multiply</text><text x="7" y="18">Clamp</text><text x="3" y="23">Value</text><text x="3" y="28.500">Value</text></g>
<g id="w-clamp" transform="translate(1184,680)"><rect class="nb" width="29" height="28"/><rect class="b" width="29" height="5"/><use href="#a"/><text x="3" y="3.600">Clamp</text><text class="r" x="26" y="8.500">Value</text><text x="3" y="13.400">Clamp</text><text x="7" y="18">Clamp</text><text x="3" y="25">Value</text></g>

<g id="v-curves" transform="translate(914,772)"><rect class="nb" width="49" height="70"/><rect class="o" width="49" height="5"/><rect class="s" x="3" y="11" width="42" height="3"/><rect class="fac" x="3" y="11" width="20" height="3"/><rect x="7" y="20" width="36" height="32" fill="#4a4a4a" stroke="#222" stroke-width=".6"/><path d="M16 20V52M25 20V52M34 20V52M7 28H43M7 36H43M7 44H43" stroke="#656565" stroke-width=".5" fill="none"/><path d="M8 51L25 44L43 37" stroke="#111" stroke-width=".6" fill="none"/><rect class="s" x="3" y="56" width="20" height="3"/><rect class="s" x="24" y="56" width="21" height="3"/><rect class="fac" x="3" y="62.500" width="43" height="2.500"/><circle class="y" cx="49" cy="7" r=".9"/><circle class="v" cy="63.500" r=".9"/><circle class="y" cy="67" r=".9"/><text x="4" y="3.600">RGB Curves</text><text class="r" x="46" y="8">Color</text><text x="14" y="13.400">Standard</text><text x="32" y="13.400">Filmic</text><text x="10" y="18">C R G B</text><text x="9" y="58.500">Black</text><text x="30" y="58.500">White</text><text x="3" y="64.500">Fac</text><text x="3" y="69">Color</text></g>
<g id="v-mix1" transform="translate(973,776)"><rect class="nb" width="29" height="35"/><rect class="o" width="29" height="5"/><use href="#x"/><rect x="16" y="30" width="10" height="2.500" fill="#000"/><text x="3" y="3.600">Mix</text><text class="r" x="26" y="8">Color</text><text x="3" y="13.400">Mix</text><text x="8" y="18">Clamp</text><text x="4" y="23">Fac</text><text x="4" y="27.500">Color1</text><text x="4" y="32">Color2</text></g>
<g id="v-ramp1" transform="translate(1019,776)"><rect class="nb" width="49" height="44"/><rect class="b" width="49" height="5"/><use href="#r"/><rect x="7" y="21" width="35" height="4.500" fill="url(#gWG)"/><rect x="3" y="34" width="43" height="2.500" fill="#000"/><text x="4" y="3.600">ColorRamp</text><text class="r" x="46" y="8.500">Color</text><text class="r" x="46" y="13">Alpha</text><text x="24" y="18">RGB</text><text x="36" y="18">Linear</text><text x="6" y="30">0</text><text x="20" y="30">Pos</text><text class="r" x="44" y="30">0.900</text><text x="4" y="41">Fac</text></g>
<g id="v-ramp2" transform="translate(1079,769)"><rect class="nb" width="50" height="44"/><rect class="b" width="50" height="5"/><use href="#r"/><rect x="7" y="21" width="36" height="4.500" fill="url(#gWK)"/><rect x="3" y="34" width="44" height="2.500" fill="#000"/><text x="4" y="3.600">ColorRamp</text><text class="r" x="46" y="8.500">Color</text><text class="r" x="46" y="13">Alpha</text><text x="24" y="18">RGB</text><text x="36" y="18">Linear</text><text x="6" y="30">0</text><text x="20" y="30">Pos</text><text class="r" x="44" y="30">0.500</text><text x="4" y="41">Fac</text></g>
<g id="v-mix2" transform="translate(1180,772)"><rect class="nb" width="32" height="35"/><rect class="o" width="32" height="5"/><use href="#x"/><rect x="18" y="30" width="10" height="2.500" fill="#000"/><text x="3" y="3.600">Multiply</text><text class="r" x="29" y="8">Color</text><text x="3" y="13.400">Mix</text><text x="8" y="18">Clamp</text><text x="4" y="23">Fac</text><text x="4" y="27.500">Color1</text><text x="4" y="32">Color2</text></g>

<g id="f-power1" transform="translate(958,871)"><rect class="nb" width="35" height="32"/><rect class="b" width="35" height="5"/><use href="#m34"/><text x="3" y="3.600">Power</text><text class="r" x="31" y="8.500">Value</text><text x="3" y="13.400">Power</text><text x="7" y="18">Clamp</text><text x="3" y="23">Value</text><text x="3" y="28.500">Exponent</text><text class="r" x="30" y="28.500">1.000</text></g>
<g id="f-mul1" transform="translate(1006,883)"><rect class="nb" width="29" height="31"/><rect class="b" width="29" height="5"/><use href="#m"/><text x="3" y="3.600">Multiply</text><text class="r" x="26" y="8.500">Value</text><text x="3" y="13.400">Multiply</text><text x="7" y="18">Clamp</text><text x="3" y="23">Value</text><text x="3" y="28.500">Value</text></g>
<g id="f-add1" transform="translate(963,910)"><rect class="nb" width="29" height="32"/><rect class="b" width="29" height="5"/><use href="#m"/><text x="3" y="3.600">Add</text><text class="r" x="26" y="8.500">Value</text><text x="3" y="13.400">Add</text><text x="7" y="18">Clamp</text><text x="3" y="23">Value</text><text x="3" y="28.500">Value</text></g>
<g id="f-ramp1" transform="translate(1056,878)"><rect class="nb" width="50" height="44"/><rect class="b" width="50" height="5"/><use href="#r"/><rect x="7" y="21" width="35" height="5" fill="url(#gKW)"/><rect x="3" y="34" width="44" height="2.500" fill="#fff"/><text x="4" y="3.600">ColorRamp</text><text class="r" x="46" y="8.500">Color</text><text class="r" x="46" y="13">Alpha</text><text x="24" y="18">RGB</text><text x="36" y="18">Linear</text><text x="6" y="30">1</text><text x="20" y="30">Pos</text><text class="r" x="44" y="30">0.200</text><text x="4" y="41">Fac</text></g>
<g id="f-mix1" transform="translate(1128,876)"><rect class="nb" width="29" height="36"/><rect class="o" width="29" height="5"/><use href="#x"/><rect x="16" y="30" width="10" height="2.500" fill="#000"/><text x="3" y="3.600">Multiply</text><text class="r" x="26" y="8">Color</text><text x="3" y="13.400">Mix</text><text x="8" y="18">Clamp</text><text x="4" y="23">Fac</text><text x="4" y="27.500">Color1</text><text x="4" y="32">Color2</text></g>
<g id="f-mix2" transform="translate(1188,933)"><rect class="nb" width="29" height="35"/><rect class="o" width="29" height="5"/><use href="#x"/><rect x="16" y="30" width="10" height="2.500" fill="#000"/><text x="3" y="3.600">Multiply</text><text class="r" x="26" y="8">Color</text><text x="3" y="13.400">Mix</text><text x="8" y="18">Clamp</text><text x="4" y="23">Fac</text><text x="4" y="27.500">Color1</text><text x="4" y="32">Color2</text></g>
<g id="f-mul2" transform="translate(947,952)"><rect class="nb" width="34" height="31"/><rect class="b" width="34" height="5"/><use href="#m34"/><text x="3" y="3.600">Multiply</text><text class="r" x="31" y="8.500">Value</text><text x="3" y="13.400">Multiply</text><text x="7" y="18">Clamp</text><text x="3" y="23">Value</text><text x="3" y="28.500">Value</text></g>
<g id="f-add2" transform="translate(958,984)"><rect class="nb" width="29" height="31"/><rect class="b" width="29" height="5"/><use href="#m"/><text x="3" y="3.600">Add</text><text class="r" x="26" y="8.500">Value</text><text x="3" y="13.400">Add</text><text x="7" y="18">Clamp</text><text x="3" y="23">Value</text><text x="3" y="28.500">Value</text></g>
<g id="f-sub" transform="translate(1009,958)"><rect class="nb" width="29" height="32"/><rect class="b" width="29" height="5"/><use href="#m"/><text x="3" y="3.600">Subtract</text><text class="r" x="26" y="8.500">Value</text><text x="3" y="13.400">Subtract</text><text x="7" y="18">Clamp</text><text x="3" y="23">Value</text><text x="3" y="28.500">Value</text></g>
<g id="f-ramp2" transform="translate(1047,955)"><rect class="nb" width="49" height="44"/><rect class="b" width="49" height="5"/><use href="#r"/><rect x="7" y="21" width="34" height="4.500" fill="url(#gWK)"/><rect x="3" y="34" width="43" height="2.500" fill="#fff"/><text x="4" y="3.600">ColorRamp</text><text class="r" x="46" y="8.500">Color</text><text class="r" x="46" y="13">Alpha</text><text x="24" y="18">RGB</text><text x="36" y="18">Linear</text><text x="6" y="30">1</text><text x="20" y="30">Pos</text><text class="r" x="44" y="30">0.700</text><text x="4" y="41">Fac</text></g>
<g id="y-add" transform="translate(1065,1047)"><rect class="nb" width="34" height="32"/><rect class="b" width="34" height="5"/><use href="#m34"/><text x="3" y="3.600">Add</text><text class="r" x="31" y="8.500">Value</text><text x="3" y="13.400">Add</text><text x="7" y="18">Clamp</text><text x="3" y="23">Value</text><text x="3" y="28.500">Value</text></g>
<g id="y-ramp" transform="translate(1116,1046)"><rect class="nb" width="49" height="44"/><rect class="b" width="49" height="5"/><use href="#r"/><rect x="7" y="21" width="35" height="4.500" fill="url(#gKW)"/><rect x="3" y="34" width="43" height="2.500" fill="#cfcfcf"/><text x="4" y="3.600">ColorRamp</text><text class="r" x="46" y="8.500">Color</text><text class="r" x="46" y="13">Alpha</text><text x="24" y="18">RGB</text><text x="36" y="18">Linear</text><text x="6" y="30">0</text><text x="20" y="30">Pos</text><text class="r" x="44" y="30">0.800</text><text x="4" y="41">Fac</text></g>
<g id="y-mix" transform="translate(1188,1050)"><rect class="nb" width="29" height="35"/><rect class="o" width="29" height="5"/><use href="#x"/><rect x="16" y="30" width="10" height="2.500" fill="#000"/><text x="3" y="3.600">Multiply</text><text class="r" x="26" y="8">Color</text><text x="3" y="13.400">Mix</text><text x="8" y="18">Clamp</text><text x="4" y="23">Fac</text><text x="4" y="27.500">Color1</text><text x="4" y="32">Color2</text></g>
<g id="c-power" transform="translate(1018,1113)"><rect class="nb" width="35" height="32"/><rect class="b" width="35" height="5"/><use href="#m34"/><text x="3" y="3.600">Power</text><text class="r" x="31" y="8.500">Value</text><text x="3" y="13.400">Power</text><text x="7" y="18">Clamp</text><text x="3" y="23">Value</text><text x="3" y="28.500">Exponent</text></g>
<g id="c-abs" transform="translate(964,1159)"><rect class="nb" width="35" height="28"/><rect class="b" width="35" height="5"/><use href="#a35"/><text x="3" y="3.600">Absolute</text><text class="r" x="32" y="8.500">Value</text><text x="3" y="13.400">Absolute</text><text x="7" y="18">Clamp</text><text x="3" y="25">Value</text></g>
<g id="c-add" transform="translate(1010,1154)"><rect class="nb" width="28" height="32"/><rect class="b" width="28" height="5"/><use href="#m"/><text x="3" y="3.600">Add</text><text class="r" x="25" y="8.500">Value</text><text x="3" y="13.400">Add</text><text x="7" y="18">Clamp</text><text x="3" y="23">Value</text><text x="3" y="28.500">Value</text></g>
<g id="c-mul1" transform="translate(1053,1158)"><rect class="nb" width="29" height="32"/><rect class="b" width="29" height="5"/><use href="#m"/><text x="3" y="3.600">Multiply</text><text class="r" x="26" y="8.500">Value</text><text x="3" y="13.400">Multiply</text><text x="7" y="18">Clamp</text><text x="3" y="23">Value</text><text x="3" y="28.500">Value</text></g>
<g id="c-mul2" transform="translate(1091,1149)"><rect class="nb" width="29" height="32"/><rect class="b" width="29" height="5"/><use href="#m"/><text x="3" y="3.600">Multiply</text><text class="r" x="26" y="8.500">Value</text><text x="3" y="13.400">Multiply</text><text x="7" y="18">Clamp</text><text x="3" y="23">Value</text><text x="3" y="28.500">Value</text></g>
<g id="c-ramp" transform="translate(1136,1137)"><rect class="nb" width="49" height="44"/><rect class="b" width="49" height="5"/><use href="#r"/><rect x="7" y="21" width="35" height="4.500" fill="url(#gWG)"/><rect x="3" y="34" width="43" height="2.500" fill="#000"/><text x="4" y="3.600">ColorRamp</text><text class="r" x="46" y="8.500">Color</text><text class="r" x="46" y="13">Alpha</text><text x="24" y="18">RGB</text><text x="36" y="18">Linear</text><text x="6" y="30">0</text><text x="20" y="30">Pos</text><text class="r" x="44" y="30">0.900</text><text x="4" y="41">Fac</text></g>
<g id="c-mix" transform="translate(1194,1139)"><rect class="nb" width="29" height="36"/><rect class="o" width="29" height="5"/><use href="#x"/><rect x="16" y="30" width="10" height="2.500" fill="#000"/><text x="3" y="3.600">Multiply</text><text class="r" x="26" y="8">Color</text><text x="3" y="13.400">Mix</text><text x="8" y="18">Clamp</text><text x="4" y="23">Fac</text><text x="4" y="27.500">Color1</text><text x="4" y="32">Color2</text></g>

<g id="b-geom" transform="translate(171,940)"><rect class="nb" width="29" height="47"/><rect class="d" width="29" height="5"/><circle class="p" cx="29" cy="7" r=".9"/><circle class="p" cx="29" cy="12" r=".9"/><circle class="p" cx="29" cy="17" r=".9"/><circle class="p" cx="29" cy="21.500" r=".9"/><circle class="p" cx="29" cy="26" r=".9"/><circle class="v" cx="29" cy="31" r=".9"/><circle class="v" cx="29" cy="35.500" r=".9"/><circle class="v" cx="29" cy="40" r=".9"/><circle class="v" cx="29" cy="44" r=".9"/><text x="4" y="3.600">Geometry</text><text class="r" x="26" y="8">Position</text><text class="r" x="26" y="13">Normal</text><text class="r" x="26" y="18">Tangent</text><text class="r" x="26" y="22.500">True Normal</text><text class="r" x="26" y="27">Incoming</text><text class="r" x="26" y="32">Parametric</text><text class="r" x="26" y="36.500">Backfacing</text><text class="r" x="26" y="41">Pointiness</text><text class="r" x="26" y="45">Random Per Island</text></g>
<g id="b-map1" transform="translate(210,921)"><rect class="nb" width="30" height="72"/><rect class="u" width="30" height="5"/><use href="#map"/><text x="4" y="3.600">Mapping</text><text class="r" x="27" y="8">Vector</text><text x="3" y="13.500">Type</text><text x="3" y="19.500">Vector</text><text x="3" y="24.500">Location</text><text x="3" y="41">Rotation</text><text x="3" y="57.500">Scale</text></g>
<g id="b-val1" transform="translate(164,1000)"><rect class="nb" width="29" height="17"/><rect class="d" width="29" height="5"/><rect x="3" y="12" width="23" height="3.200" fill="#7a2fa8"/><circle class="v" cx="29" cy="7" r=".9"/><text x="4" y="3.600">Value</text><text class="r" x="26" y="8">Value</text><text class="c" x="14.500" y="14.800">0.800</text></g>
<g id="b-mul1" transform="translate(209,995)"><rect class="nb" width="29" height="32"/><rect class="b" width="29" height="5"/><use href="#m"/><text x="3" y="3.600">Multiply</text><text class="r" x="26" y="8.500">Value</text><text x="3" y="13.400">Multiply</text><text x="7" y="18">Clamp</text><text x="3" y="23">Value</text><text x="3" y="28.500">Value</text><text class="r" x="25" y="28.500">1.000</text></g>
<g id="b-val2" transform="translate(160,1030)"><rect class="nb" width="29" height="17"/><rect class="d" width="29" height="5"/><rect x="3" y="12" width="23" height="3.200" fill="#7a2fa8"/><circle class="v" cx="29" cy="7" r=".9"/><text x="4" y="3.600">Value</text><text class="r" x="26" y="8">Value</text><text class="c" x="14.500" y="14.800">0.800</text></g>
<g id="b-mul2" transform="translate(208,1029)"><rect class="nb" width="29" height="32"/><rect class="b" width="29" height="5"/><use href="#m"/><text x="3" y="3.600">Multiply</text><text class="r" x="26" y="8.500">Value</text><text x="3" y="13.400">Multiply</text><text x="7" y="18">Clamp</text><text x="3" y="23">Value</text><text x="3" y="28.500">Value</text><text class="r" x="25" y="28.500">1.000</text></g>
<g id="b-com" transform="translate(255,1004)"><rect class="nb" width="28" height="25"/><rect class="b" width="28" height="5"/><circle class="p" cx="28" cy="7.500" r=".9"/><circle class="v" cy="13" r=".9"/><circle class="v" cy="17.500" r=".9"/><circle class="v" cy="22" r=".9"/><rect class="s" x="3" y="20.500" width="22" height="3"/><text x="3" y="3.600">Combine XYZ</text><text class="r" x="25" y="8.500">Vector</text><text x="3" y="14">X</text><text x="3" y="18.500">Y</text><text x="3" y="23">Z</text></g>
<g id="b-map2" transform="translate(312,969)"><rect class="nb" width="26" height="60"/><rect class="u" width="26" height="5"/><rect class="f" x="10" y="11" width="14" height="3"/><rect class="s" x="3" y="26" width="20" height="8"/><rect class="s" x="3" y="38" width="20" height="8"/><rect class="s" x="3" y="50" width="20" height="8"/><circle class="p" cx="26" cy="7" r=".9"/><circle class="p" cy="18.500" r=".9"/><text x="4" y="3.600">Mapping</text><text class="r" x="23" y="8">Vector</text><text x="3" y="13.500">Type</text><text x="3" y="19.500">Vector</text><text x="3" y="24.500">Location</text><text x="3" y="37.500">Rotation</text><text x="3" y="49.500">Scale</text></g>
<g id="b-map3" transform="translate(374,965)"><rect class="nb" width="30" height="72"/><rect class="u" width="30" height="5"/><use href="#map"/><text x="4" y="3.600">Mapping</text><text class="r" x="27" y="8">Vector</text><text x="3" y="13.500">Type</text><text x="3" y="19.500">Vector</text><text x="3" y="24.500">Location</text><text x="3" y="41">Rotation</text><text x="3" y="57.500">Scale</text></g>
<g id="b-grad" transform="translate(472,974)"><rect class="nb" width="28" height="36"/><rect class="e" width="28" height="5"/><circle class="y" cx="28" cy="7.500" r=".9"/><circle class="y" cx="28" cy="12" r=".9"/><circle class="y" cx="28" cy="16.500" r=".9"/><circle class="y" cx="28" cy="21" r=".9"/><circle class="p" cy="32" r=".9"/><rect class="f" x="3" y="25" width="22" height="3.500"/><text x="3" y="3.600">Gradient</text><text class="r" x="25" y="8">X</text><text class="r" x="25" y="12.500">Dist</text><text class="r" x="25" y="17">Y</text><text class="r" x="25" y="21.500">Dist</text><text x="4" y="33">Data</text></g>

<g id="v-tex" transform="translate(873,1303)"><rect class="nb" width="29" height="47"/><rect class="m" width="29" height="4.500"/><circle class="p" cx="29" cy="7" r=".9"/><circle class="p" cx="29" cy="11" r=".9"/><circle class="p" cx="29" cy="15" r=".9"/><circle class="p" cx="29" cy="19.500" r=".9"/><circle class="p" cx="29" cy="23.500" r=".9"/><circle class="p" cx="29" cy="28" r=".9"/><circle class="p" cx="29" cy="32" r=".9"/><rect class="f" x="11" y="36" width="15" height="3"/><text x="3" y="3.400">Texture Coordinate</text><text class="r" x="26" y="8">Generated</text><text class="r" x="26" y="12">Normal</text><text class="r" x="26" y="16">UV</text><text class="r" x="26" y="20.500">Object</text><text class="r" x="26" y="24.500">Camera</text><text class="r" x="26" y="29">Window</text><text class="r" x="26" y="33">Reflection</text><text x="3" y="38.500">Object</text><text x="5" y="44">From Instancer</text></g>
<g id="v-map" transform="translate(916,1299)"><rect class="nb" width="50" height="72"/><rect class="u" width="50" height="4.500"/><rect class="f" x="15" y="11" width="33" height="3"/><rect class="s" x="3" y="26" width="44" height="10"/><rect class="s" x="3" y="42.500" width="44" height="10"/><rect class="s" x="3" y="59" width="44" height="10"/><circle class="p" cx="50" cy="7" r=".9"/><circle class="p" cy="18.500" r=".9"/><text x="4" y="3.400">Mapping</text><text class="r" x="47" y="8">Vector</text><text x="3" y="13.500">Type</text><text x="3" y="19.500">Vector</text><text x="3" y="24.500">Location</text><text x="3" y="41">Rotation</text><text x="3" y="57.500">Scale</text></g>
<g id="v-wave" transform="translate(976,1289)"><rect class="nb" width="50" height="78"/><rect class="w" width="50" height="4.500"/><rect class="f" x="3" y="20" width="44" height="3"/><rect class="f" x="3" y="27" width="44" height="3"/><rect class="f" x="15" y="33" width="32" height="3"/><rect class="f" x="25" y="38" width="22" height="3"/><rect class="s" x="3" y="47" width="44" height="9"/><rect x="33" y="16" width="5" height="2.500" fill="#fff"/><circle class="y" cx="50" cy="7" r=".9"/><circle class="v" cx="50" cy="11" r=".9"/><circle class="p" cy="74" r=".9"/><text x="4" y="3.400">Image Texture</text><text class="r" x="47" y="8">Color</text><text class="r" x="47" y="12">Alpha</text><text x="5" y="18">waves.jpg</text><text x="3" y="22.500">Color</text><text x="3" y="29.500">Linear</text><text x="3" y="35.500">Flat</text><text x="3" y="40.500">Repeat</text><text x="3" y="46">Frames</text><text x="4" y="50">Frames</text><text x="4" y="55">Offset</text><text x="6" y="61">Cyclic</text><text x="6" y="65">Auto Refresh</text><text x="3" y="70">Color Space</text><text x="3" y="75">Vector</text></g>
<g id="v-sep" transform="translate(1043,1335)"><rect class="nb" width="29" height="24"/><rect class="b" width="29" height="4.500"/><use href="#sep"/><text x="3" y="3.400">Separate RGB</text><text class="r" x="26" y="8.500">R</text><text class="r" x="26" y="13">G</text><text class="r" x="26" y="17.500">B</text><text x="4" y="22.500">Image</text></g>
<g id="v-com" transform="translate(1082,1329)"><rect class="nb" width="29" height="24"/><rect class="b" width="29" height="4.500"/><use href="#com"/><text x="3" y="3.400">Combine RGB</text><text class="r" x="26" y="8.500">Image</text><text x="4" y="13.500">R</text><text x="4" y="17.500">G</text><text x="4" y="22">B</text></g>
<g id="v-disp1" transform="translate(1198,1245)"><rect class="nb" width="29" height="30"/><rect class="u" width="29" height="4.500"/><rect class="f" x="11" y="11" width="16" height="3"/><rect class="s" x="3" y="21" width="23" height="7"/><circle class="p" cx="29" cy="7" r=".9"/><circle class="y" cy="18.500" r=".9"/><circle class="v" cy="23" r=".9"/><circle class="v" cy="27" r=".9"/><text x="3" y="3.400">Displacement</text><text class="r" x="26" y="8">Displacement</text><text x="3" y="13.500">Object</text><text x="4" y="19">Height</text><text x="4" y="24">Midlevel</text><text x="4" y="28">Scale</text></g>
<g id="v-disp2" transform="translate(1200,1295)"><rect class="nb" width="29" height="30"/><rect class="u" width="29" height="4.500"/><rect class="f" x="11" y="11" width="16" height="3"/><rect class="s" x="3" y="21" width="23" height="7"/><circle class="p" cx="29" cy="7" r=".9"/><circle class="y" cy="18.500" r=".9"/><circle class="v" cy="23" r=".9"/><circle class="v" cy="27" r=".9"/><text x="3" y="3.400">Displacement</text><text class="r" x="26" y="8">Displacement</text><text x="3" y="13.500">Object</text><text x="4" y="19">Height</text><text x="4" y="24">Midlevel</text><text x="4" y="28">Scale</text></g>

<g id="z-mul" transform="translate(1395,1133)"><rect class="nb" width="29" height="32"/><rect class="b" width="29" height="5"/><use href="#m"/><text x="3" y="3.600">Multiply</text><text class="r" x="26" y="8.500">Value</text><text x="3" y="13.400">Multiply</text><text x="7" y="18">Clamp</text><text x="3" y="23">Value</text><text x="3" y="28.500">Value</text><text class="r" x="25" y="28.500">5.000</text></g>
<g id="z-add1" transform="translate(1497,1152)"><rect class="nb" width="29" height="35"/><rect class="o" width="29" height="5"/><use href="#x3"/><text x="3" y="3.600">Add</text><text class="r" x="26" y="8">Color</text><text x="3" y="13.400">Add</text><text x="8" y="18">Clamp</text><text x="4" y="22.500">Fac</text><text x="4" y="27.500">Color1</text><text x="4" y="32">Color2</text></g>
<g id="z-add2" transform="translate(1514,1219)"><rect class="nb" width="29" height="35"/><rect class="o" width="29" height="5"/><use href="#x3"/><text x="3" y="3.600">Add</text><text class="r" x="26" y="8">Color</text><text x="3" y="13.400">Add</text><text x="8" y="18">Clamp</text><text x="4" y="22.500">Fac</text><text x="4" y="27.500">Color1</text><text x="4" y="32">Color2</text></g>
<g id="z-add3" transform="translate(1675,1079)"><rect class="nb" width="21" height="35"/><rect class="o" width="21" height="5"/><use href="#x3" transform="scale(.72,1)"/><text x="3" y="3.600">Add</text><text class="r" x="18" y="8">Color</text><text x="3" y="13.400">Add</text><text x="6" y="18">Clamp</text><text x="3" y="22.500">Fac</text><text x="3" y="27.500">Color1</text><text x="3" y="32">Color2</text></g>
<g id="z-add4" transform="translate(1660,1174)"><rect class="nb" width="29" height="35"/><rect class="o" width="29" height="5"/><use href="#x3"/><rect class="fac" x="3" y="20" width="22" height="3"/><text x="3" y="3.600">Add</text><text class="r" x="26" y="8">Color</text><text x="3" y="13.400">Add</text><text x="8" y="18">Clamp</text><text x="4" y="22.500">Fac</text><text x="4" y="27.500">Color1</text><text x="4" y="32">Color2</text></g>
<g id="z-out1" transform="translate(1836,1064)"><rect class="nb" width="29" height="25"/><rect class="d" width="29" height="4.500"/><rect class="f" x="9" y="6.500" width="17" height="2.500"/><circle class="g" cy="12.500" r=".9"/><circle class="g" cy="17" r=".9"/><circle class="p" cy="21.500" r=".9"/><text x="3" y="3.400">Material Output</text><text x="3" y="8.800">Sheet</text><text x="4" y="13.500">Surface</text><text x="4" y="18">Volume</text><text x="4" y="22.500">Displacement</text></g>
<g id="z-out2" transform="translate(1831,1183)"><rect class="nb" width="29" height="25"/><rect class="f" x="9" y="6.500" width="17" height="2.500"/><circle class="g" cy="12.500" r=".9"/><circle class="g" cy="17" r=".9"/><circle class="p" cy="21.500" r=".9"/><text x="3" y="3.400">Material Output</text><text x="3" y="8.800">Cycles</text><text x="4" y="13.500">Surface</text><text x="4" y="18">Volume</text><text x="4" y="22.500">Displacement</text></g>
</g>
<text id="title" x="17" y="1404" style="font-size:11px;fill:#e4e4e4">ocean</text>
</svg>
